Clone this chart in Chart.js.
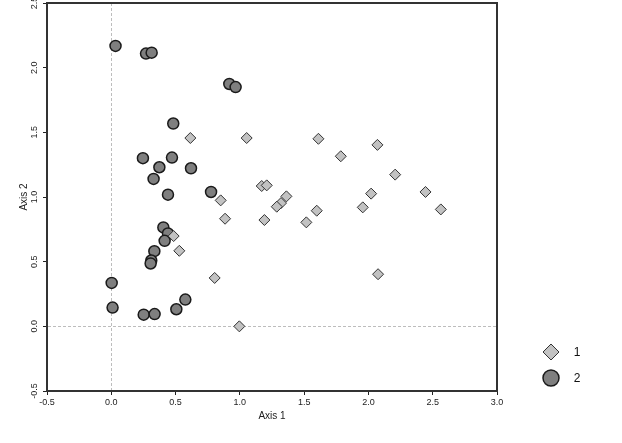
<!DOCTYPE html>
<html>
<head>
<meta charset="utf-8">
<script src="https://cdn.jsdelivr.net/npm/chart.js@4/dist/chart.umd.min.js"></script>
<style>
  html, body { margin: 0; padding: 0; background: #fff; }
  #wrap { width: 622px; height: 443px; position: relative; }
</style>
</head>
<body>
<div id="wrap"><canvas id="c" width="622" height="443"></canvas></div>
<script>
// ---- data ----
const seriesNames = ['1', '2'];
const group1X = [0.615, 1.053, 1.611, 2.070, 1.785, 2.208, 1.170, 1.209, 1.362, 1.320, 1.287, 2.021, 2.444, 1.956, 2.563, 1.598, 1.517, 0.851, 0.885, 1.191, 0.485, 0.529, 0.804, 2.075, 0.996];
const group1Y = [1.456, 1.456, 1.450, 1.403, 1.315, 1.173, 1.085, 1.090, 1.005, 0.953, 0.925, 1.026, 1.039, 0.920, 0.904, 0.894, 0.804, 0.974, 0.832, 0.822, 0.698, 0.584, 0.374, 0.403, 0.000];
const group2X = [0.033, 0.270, 0.314, 0.918, 0.967, 0.482, 0.246, 0.472, 0.374, 0.620, 0.329, 0.441, 0.776, 0.405, 0.441, 0.415, 0.335, 0.311, 0.306, 0.003, 0.010, 0.252, 0.337, 0.506, 0.576];
const group2Y = [2.168, 2.109, 2.116, 1.874, 1.850, 1.568, 1.300, 1.305, 1.230, 1.222, 1.140, 1.018, 1.039, 0.765, 0.718, 0.661, 0.581, 0.509, 0.486, 0.336, 0.145, 0.090, 0.095, 0.132, 0.207];
const xTicks = [-0.5, 0.0, 0.5, 1.0, 1.5, 2.0, 2.5, 3.0];
const yTicks = [-0.5, 0.0, 0.5, 1.0, 1.5, 2.0, 2.5];
const xTitle = 'Axis 1';
const yTitle = 'Axis 2';

const toPoints = (xs, ys) => xs.map((x, i) => ({ x: x, y: ys[i] }));

const FONT = "'Liberation Sans', Arial, sans-serif";

const frame = {
  id: 'frame',
  afterDatasetsDraw(chart) {
    const a = chart.chartArea, ctx = chart.ctx;
    ctx.save();
    ctx.strokeStyle = '#333';
    ctx.lineWidth = 2;
    ctx.strokeRect(a.left, a.top, a.right - a.left, a.bottom - a.top);
    ctx.restore();
  }
};

const customLegend = {
  id: 'customLegend',
  afterDraw(chart) {
    const ctx = chart.ctx;
    const x = 551, yy = [352, 378];
    ctx.save();
    chart.data.datasets.forEach((ds, i) => {
      const y = yy[i];
      ctx.beginPath();
      if (ds.pointStyle === 'rectRot') {
        const r = 8;
        ctx.moveTo(x, y - r); ctx.lineTo(x + r, y); ctx.lineTo(x, y + r); ctx.lineTo(x - r, y); ctx.closePath();
      } else {
        ctx.arc(x, y, 8, 0, Math.PI * 2);
      }
      ctx.fillStyle = ds.backgroundColor;
      ctx.fill();
      ctx.lineWidth = ds.borderWidth;
      ctx.strokeStyle = ds.borderColor;
      ctx.stroke();
      ctx.fillStyle = '#111';
      ctx.font = '12px ' + FONT;
      ctx.textAlign = 'center';
      ctx.textBaseline = 'middle';
      ctx.fillText(ds.label, 577, y + 1);
    });
    ctx.restore();
  }
};

new Chart(document.getElementById('c'), {
  type: 'scatter',
  data: {
    datasets: [
      {
        label: seriesNames[0],
        data: toPoints(group1X, group1Y),
        pointStyle: 'rectRot',
        pointRadius: 5.5,
        pointHoverRadius: 5.5,
        backgroundColor: '#c2c2c2',
        borderColor: '#333333',
        borderWidth: 1
      },
      {
        label: seriesNames[1],
        data: toPoints(group2X, group2Y),
        pointStyle: 'circle',
        pointRadius: 5.5,
        pointHoverRadius: 5.5,
        backgroundColor: '#7f7f7f',
        borderColor: '#1a1a1a',
        borderWidth: 1.5
      }
    ]
  },
  options: {
    responsive: false,
    animation: false,
    events: [],
    layout: { autoPadding: false, padding: { top: 3, right: 125, bottom: 0, left: 0 } },
    plugins: { legend: { display: false }, tooltip: { enabled: false } },
    scales: {
      x: {
        type: 'linear',
        min: -0.5, max: 3.0,
        afterBuildTicks: s => { s.ticks = xTicks.map(v => ({ value: v })); },
        afterFit: s => { s.height = 52; s.paddingLeft = 0; s.paddingRight = 0; },
        ticks: {
          font: { family: FONT, size: 9 },
          color: '#222',
          padding: 2,
          maxRotation: 0,
          callback: v => Number(v).toFixed(1)
        },
        grid: {
          color: c => (c.tick && c.tick.value === 0 ? '#bdbdbd' : 'rgba(0,0,0,0)'),
          lineWidth: 1,
          tickColor: '#222',
          tickLength: 4,
          drawTicks: true
        },
        border: { display: true, color: '#333', width: 2, dash: [3, 2] },
        title: {
          display: true, text: xTitle,
          font: { family: FONT, size: 10 },
          color: '#222',
          padding: { top: 0, bottom: 21 }
        }
      },
      y: {
        type: 'linear',
        min: -0.5, max: 2.5,
        afterBuildTicks: s => { s.ticks = yTicks.map(v => ({ value: v })); },
        afterFit: s => { s.width = 47; s.paddingTop = 0; s.paddingBottom = 0; },
        ticks: {
          font: { family: FONT, size: 9 },
          color: '#222',
          padding: 1,
          minRotation: 90,
          maxRotation: 90,
          crossAlign: 'center',
          callback: v => Number(v).toFixed(1)
        },
        grid: {
          color: c => (c.tick && c.tick.value === 0 ? '#bdbdbd' : 'rgba(0,0,0,0)'),
          lineWidth: 1,
          tickColor: '#222',
          tickLength: 4,
          drawTicks: true
        },
        border: { display: true, color: '#333', width: 2, dash: [3, 2] },
        title: {
          display: true, text: yTitle,
          font: { family: FONT, size: 10 },
          color: '#222',
          padding: { top: 18, bottom: 0 }
        }
      }
    }
  },
  plugins: [frame, customLegend]
});
</script>
</body>
</html>
